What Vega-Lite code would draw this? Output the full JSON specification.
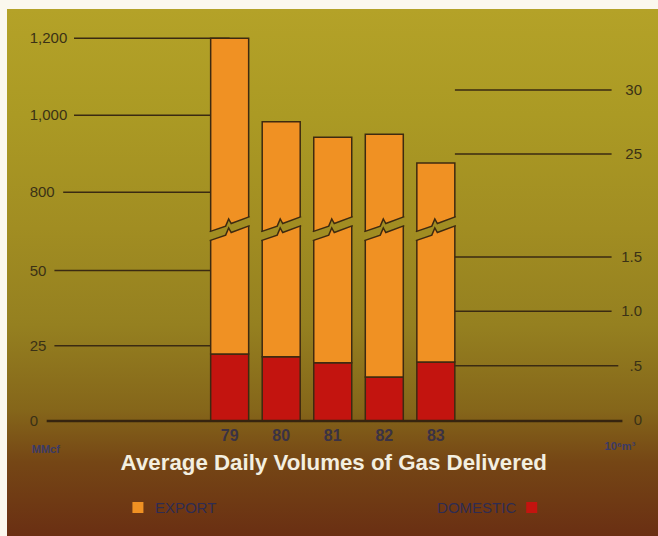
{
  "$schema": "https://vega.github.io/schema/vega-lite/v6.json",
  "width": 651,
  "height": 527,
  "autosize": "none",
  "padding": {"left": 7, "top": 9, "right": 0, "bottom": 0},
  "background": "#fbf8ee",
  "config": {
    "view": {"stroke": null},
    "axis": {"disable": true},
    "legend": {"disable": true},
    "text": {"font": "Liberation Sans"}
  },
  "datasets": {
    "volumes": [
      {"year": 79, "type": "Domestic", "volume": 22.3},
      {"year": 79, "type": "Export", "volume": 1177.7},
      {"year": 80, "type": "Domestic", "volume": 21.4},
      {"year": 80, "type": "Export", "volume": 961.6},
      {"year": 81, "type": "Domestic", "volume": 19.4},
      {"year": 81, "type": "Export", "volume": 923.6},
      {"year": 82, "type": "Domestic", "volume": 14.6},
      {"year": 82, "type": "Export", "volume": 936.4},
      {"year": 83, "type": "Domestic", "volume": 19.6},
      {"year": 83, "type": "Export", "volume": 856.4}
    ],
    "mmcfTicks": [
      {"value": 0}, {"value": 25}, {"value": 50},
      {"value": 800}, {"value": 1000}, {"value": 1200}
    ],
    "cubicMetreTicks": [
      {"value": 0, "label": "0"},
      {"value": 0.5, "label": ".5"},
      {"value": 1, "label": "1.0"},
      {"value": 1.5, "label": "1.5"},
      {"value": 25, "label": "25"},
      {"value": 30, "label": "30"}
    ]
  },
  "layer": [
    {
      "data": {"values": [{}]},
      "mark": {
        "type": "rect",
        "color": {
          "gradient": "linear",
          "x1": 0, "y1": 0, "x2": 0, "y2": 1,
          "stops": [
            {"offset": 0, "color": "#b4a228"},
            {"offset": 0.2, "color": "#ab9a24"},
            {"offset": 0.4165, "color": "#a18d22"},
            {"offset": 0.6, "color": "#958020"},
            {"offset": 0.76, "color": "#85661a"},
            {"offset": 0.86, "color": "#754615"},
            {"offset": 1, "color": "#6a2f13"}
          ]
        }
      },
      "encoding": {}
    },
    {
      "layer": [
        {
          "data": {"name": "mmcfTicks"},
          "transform": [{"filter": "datum.value >= 1000"}],
          "mark": {"type": "rule", "color": "#3a2a12", "strokeWidth": 1.5},
          "encoding": {
            "x": {"datum": 75.98, "type": "quantitative"},
            "x2": {"datum": 79},
            "y": {"field": "value", "type": "quantitative"}
          }
        },
        {
          "data": {"name": "mmcfTicks"},
          "transform": [{"filter": "datum.value == 800"}],
          "mark": {"type": "rule", "color": "#3a2a12", "strokeWidth": 1.5},
          "encoding": {
            "x": {"datum": 75.77, "type": "quantitative"},
            "x2": {"datum": 79},
            "y": {"field": "value", "type": "quantitative"}
          }
        },
        {
          "data": {"name": "mmcfTicks"},
          "transform": [{"filter": "datum.value == 25 || datum.value == 50"}],
          "mark": {"type": "rule", "color": "#3a2a12", "strokeWidth": 1.5},
          "encoding": {
            "x": {"datum": 75.6, "type": "quantitative"},
            "x2": {"datum": 79},
            "y": {"field": "value", "type": "quantitative"}
          }
        },
        {
          "data": {"name": "volumes"},
          "mark": {"type": "bar", "width": 38, "stroke": "#3e2a10", "strokeWidth": 1.5},
          "encoding": {
            "x": {
              "field": "year",
              "type": "quantitative",
              "scale": {"domain": [75, 87], "range": [11.5, 640], "nice": false, "zero": false},
              "axis": null
            },
            "y": {
              "field": "volume",
              "type": "quantitative",
              "stack": "zero",
              "scale": {"domain": [0, 64, 706, 1300], "range": [412, 219.5, 219.5, -9.2], "nice": false, "zero": false},
              "axis": null
            },
            "color": {
              "field": "type",
              "type": "nominal",
              "scale": {"domain": ["Domestic", "Export"], "range": ["#c3140f", "#f09123"]},
              "legend": null
            },
            "order": {"field": "type", "sort": "ascending"}
          }
        },
        {
          "data": {"values": [{}]},
          "mark": {"type": "rule", "color": "#36240f", "strokeWidth": 2.6},
          "encoding": {
            "x": {"datum": 75.45, "type": "quantitative"},
            "x2": {"datum": 86.62},
            "y": {"datum": 0, "type": "quantitative"}
          }
        },
        {
          "data": {"name": "volumes"},
          "transform": [{"filter": "datum.type == 'Export'"}],
          "mark": {
            "type": "point",
            "shape": "M-21,3.5L-4,-2.4L-1,-9.5L1.5,-5L21,-12.3L21,-3.3L1.5,4L-1,-0.5L-4,6.6L-21,12.5Z",
            "size": 4,
            "filled": true,
            "fill": "#a18d22",
            "strokeWidth": 0,
            "opacity": 1
          },
          "encoding": {
            "x": {"field": "year", "type": "quantitative"},
            "y": {"datum": 64, "type": "quantitative"}
          }
        },
        {
          "data": {"name": "volumes"},
          "transform": [{"filter": "datum.type == 'Export'"}],
          "mark": {
            "type": "point",
            "shape": "M-20,3.15L-4,-2.4L-1,-9.5L1.5,-5L20,-11.9M-20,12.15L-4,6.6L-1,-0.5L1.5,4L20,-2.9",
            "size": 4,
            "filled": false,
            "stroke": "#3e2a10",
            "strokeWidth": 1.5,
            "opacity": 1
          },
          "encoding": {
            "x": {"field": "year", "type": "quantitative"},
            "y": {"datum": 64, "type": "quantitative"}
          }
        },
        {
          "data": {"name": "mmcfTicks"},
          "mark": {"type": "text", "align": "left", "baseline": "middle", "fontSize": 15, "color": "#3a3116"},
          "encoding": {
            "x": {"datum": 75.12, "type": "quantitative"},
            "y": {"field": "value", "type": "quantitative"},
            "text": {"field": "value", "type": "quantitative", "format": ","}
          }
        },
        {
          "data": {"name": "volumes"},
          "transform": [{"filter": "datum.type == 'Export'"}],
          "mark": {"type": "text", "align": "center", "baseline": "middle", "fontSize": 16, "fontWeight": "bold", "color": "#3a3244"},
          "encoding": {
            "x": {"field": "year", "type": "quantitative"},
            "y": {"datum": -5.0, "type": "quantitative"},
            "text": {"field": "year", "type": "nominal"}
          }
        },
        {
          "data": {"values": [{}]},
          "mark": {"type": "text", "text": "Average Daily Volumes of Gas Delivered", "align": "center", "baseline": "alphabetic", "fontSize": 22.3, "fontWeight": "bold", "color": "#f3efe0"},
          "encoding": {
            "x": {"datum": 81.02, "type": "quantitative"},
            "y": {"datum": -16.3, "type": "quantitative"}
          }
        },
        {
          "data": {"values": [{}]},
          "mark": {"type": "text", "text": "MMcf", "align": "left", "baseline": "middle", "fontSize": 11, "fontWeight": "bold", "color": "#3a3a66"},
          "encoding": {
            "x": {"datum": 75.16, "type": "quantitative"},
            "y": {"datum": -9.64, "type": "quantitative"}
          }
        },
        {
          "data": {"values": [{}]},
          "mark": {"type": "text", "text": "10⁶m³", "align": "right", "baseline": "middle", "fontSize": 11, "fontWeight": "bold", "color": "#3a3a66"},
          "encoding": {
            "x": {"datum": 86.87, "type": "quantitative"},
            "y": {"datum": -8.64, "type": "quantitative"}
          }
        },
        {
          "data": {"values": [{}]},
          "mark": {"type": "point", "shape": "square", "size": 121, "filled": true, "opacity": 1},
          "encoding": {
            "x": {"datum": 77.22, "type": "quantitative"},
            "y": {"datum": -28.76, "type": "quantitative"},
            "color": {"datum": "Export", "type": "nominal", "legend": null}
          }
        },
        {
          "data": {"values": [{}]},
          "mark": {"type": "text", "text": "EXPORT", "align": "left", "baseline": "middle", "fontSize": 15, "color": "#2e2c52"},
          "encoding": {
            "x": {"datum": 77.55, "type": "quantitative"},
            "y": {"datum": -28.76, "type": "quantitative"}
          }
        },
        {
          "data": {"values": [{}]},
          "mark": {"type": "text", "text": "DOMESTIC", "align": "right", "baseline": "middle", "fontSize": 15, "color": "#2e2c52"},
          "encoding": {
            "x": {"datum": 84.56, "type": "quantitative"},
            "y": {"datum": -28.76, "type": "quantitative"}
          }
        },
        {
          "data": {"values": [{}]},
          "mark": {"type": "point", "shape": "square", "size": 121, "filled": true, "opacity": 1},
          "encoding": {
            "x": {"datum": 84.86, "type": "quantitative"},
            "y": {"datum": -28.76, "type": "quantitative"},
            "color": {"datum": "Domestic", "type": "nominal", "legend": null}
          }
        }
      ]
    },
    {
      "layer": [
        {
          "data": {"name": "cubicMetreTicks"},
          "transform": [{"filter": "datum.value >= 1"}],
          "mark": {"type": "rule", "color": "#3a2a12", "strokeWidth": 1.5},
          "encoding": {
            "x": {"datum": 83.37, "type": "quantitative"},
            "x2": {"datum": 86.41},
            "y": {
              "field": "value",
              "type": "quantitative",
              "scale": {"domain": [0, 1.5, 25, 30], "range": [411, 248, 145, 81], "nice": false, "zero": false},
              "axis": null
            }
          }
        },
        {
          "data": {"name": "cubicMetreTicks"},
          "transform": [{"filter": "datum.value == 0.5"}],
          "mark": {"type": "rule", "color": "#3a2a12", "strokeWidth": 1.5},
          "encoding": {
            "x": {"datum": 83.37, "type": "quantitative"},
            "x2": {"datum": 86.54},
            "y": {"field": "value", "type": "quantitative"}
          }
        },
        {
          "data": {"name": "cubicMetreTicks"},
          "mark": {"type": "text", "align": "right", "baseline": "middle", "fontSize": 15, "color": "#3a3116"},
          "encoding": {
            "x": {"datum": 87.0, "type": "quantitative"},
            "y": {"field": "value", "type": "quantitative"},
            "text": {"field": "label", "type": "nominal"}
          }
        }
      ]
    }
  ],
  "resolve": {"scale": {"y": "independent"}}
}
